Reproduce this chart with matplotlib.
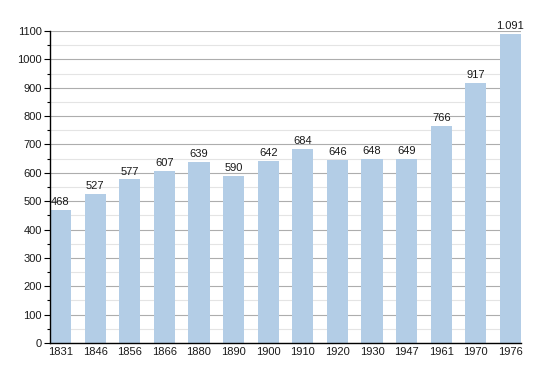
import matplotlib
matplotlib.use("Agg")
import matplotlib.pyplot as plt
from matplotlib.ticker import MultipleLocator

years = ["1831", "1846", "1856", "1866", "1880", "1890", "1900",
         "1910", "1920", "1930", "1947", "1961", "1970", "1976"]
population = [468, 527, 577, 607, 639, 590, 642, 684, 646, 648, 649, 766, 917, 1091]

plt.rcParams['font.family'] = ['Liberation Sans', 'DejaVu Sans']

fig = plt.figure(figsize=(5.5, 3.73), dpi=100)
ax = fig.add_axes([50/550, 30/373, 471/550, 312/373])

x = range(len(years))
width = 0.61
ax.bar(x, population, width=width, color="#b3cde6", zorder=2)

for xi, v in zip(x, population):
    label = "{:,}".format(v).replace(",", ".")
    ax.text(xi, v + 10, label, ha="center", va="bottom", fontsize=8, color="#1a1a1a")

ax.set_xlim(-width/2, len(years) - 1 + width/2)
ax.set_ylim(0, 1100)
ax.yaxis.set_major_locator(MultipleLocator(100))
ax.yaxis.set_minor_locator(MultipleLocator(50))
ax.grid(axis="y", which="major", color="#adadad", linewidth=0.8, zorder=0)
ax.grid(axis="y", which="minor", color="#e4e4e4", linewidth=0.8, zorder=0)

ax.set_xticks(list(x))
ax.set_xticklabels(years)
ax.tick_params(axis="x", length=0, labelsize=8, pad=3, labelcolor="#1a1a1a")
ax.tick_params(axis="y", which="major", length=4, width=0.8, labelsize=8, pad=2, labelcolor="#1a1a1a")
ax.tick_params(axis="y", which="minor", length=2, width=0.8)

for s in ["top", "right"]:
    ax.spines[s].set_visible(False)
ax.spines["left"].set_linewidth(1)
ax.spines["bottom"].set_linewidth(1)

fig.savefig("out.png", dpi=100)
